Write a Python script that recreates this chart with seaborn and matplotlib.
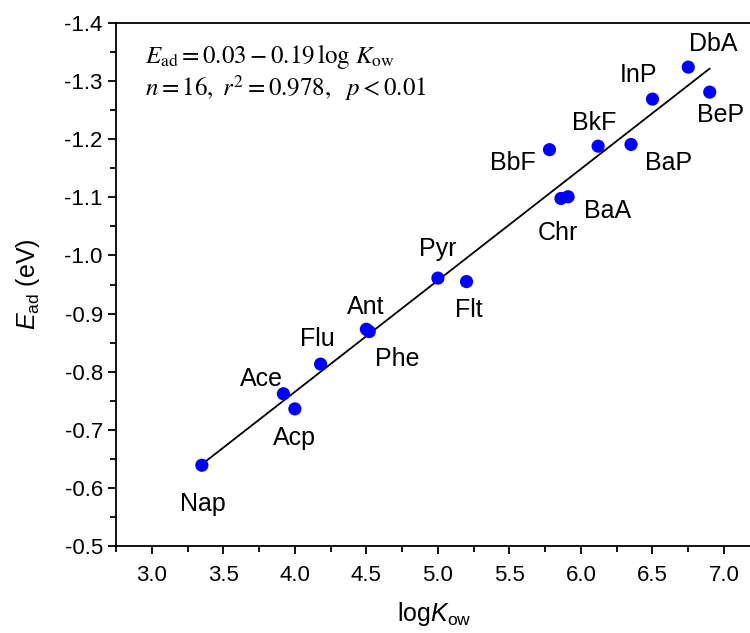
import numpy as np
import pandas as pd
import seaborn as sns
import matplotlib.pyplot as plt
from matplotlib.ticker import MultipleLocator

# data
names = ["Nap", "Ace", "Acp", "Flu", "Ant", "Phe", "Pyr", "Flt",
         "Chr", "BaA", "BbF", "BkF", "BaP", "InP", "DbA", "BeP"]
logkow = [3.35, 3.92, 4.00, 4.18, 4.50, 4.52, 5.00, 5.20,
          5.86, 5.91, 5.78, 6.12, 6.35, 6.50, 6.75, 6.90]
ead = [-0.639, -0.762, -0.736, -0.813, -0.873, -0.869, -0.961, -0.955,
       -1.098, -1.101, -1.182, -1.188, -1.191, -1.269, -1.324, -1.281]
# label offsets in pixels (dx, dy)
offsets = [(1, -39), (-22, 15), (0, -29), (-3, 25), (-1, 22), (28, -27),
           (0, 29), (2, -28), (-3, -35), (39, -14), (-37, -13), (-4, 23),
           (38, -19), (-14, 24), (25, 23), (11, -23)]

df = pd.DataFrame({"name": names, "logKow": logkow, "Ead": ead})

sns.set_style("ticks")
plt.rcParams["font.family"] = ["Liberation Sans", "DejaVu Sans"]
plt.rcParams["mathtext.fontset"] = "custom"
plt.rcParams["mathtext.rm"] = "Liberation Sans"
plt.rcParams["mathtext.it"] = "Liberation Sans:italic"
plt.rcParams["axes.linewidth"] = 1.3
for k in ["text.color", "axes.labelcolor", "xtick.color", "ytick.color",
          "axes.edgecolor"]:
    plt.rcParams[k] = "black"

fig = plt.figure(figsize=(7.5, 6.33), dpi=100)
ax = fig.add_axes([0.1547, 0.1374, 0.8488, 0.8263])

sns.regplot(data=df, x="logKow", y="Ead", ax=ax, scatter=False, ci=None,
            line_kws={"color": "black", "lw": 1.3})
sns.scatterplot(data=df, x="logKow", y="Ead", ax=ax, color="#0000ff",
                s=90, edgecolor="none", zorder=3)

for n, x, y, (dx, dy) in zip(names, logkow, ead, offsets):
    ax.annotate(n, (x, y), xytext=(dx, dy), textcoords="offset pixels",
                ha="center", va="center", fontsize=18)

ax.set_xlim(2.75, 7.2)
ax.set_ylim(-0.5, -1.4)
ax.xaxis.set_major_locator(MultipleLocator(0.5))
ax.xaxis.set_minor_locator(MultipleLocator(0.25))
ax.yaxis.set_major_locator(MultipleLocator(0.1))
ax.yaxis.set_minor_locator(MultipleLocator(0.05))
ax.xaxis.set_major_formatter(lambda v, p: f"{v:.1f}")
ax.yaxis.set_major_formatter(lambda v, p: f"{v:.1f}")
ax.tick_params(which="major", length=6, width=1.3, labelsize=16)
ax.tick_params(which="minor", length=4, width=1.3)
ax.tick_params(axis="x", pad=8)

ax.set_xlabel(r"log$\mathit{K}_{\mathrm{ow}}$", fontsize=18, labelpad=10)
ax.set_ylabel(r"$\mathit{E}_{\mathrm{ad}}$ (eV)", fontsize=18, labelpad=16)

ax.text(0.046, 0.935, r"$E_{\mathrm{ad}}=0.03-0.19\,\log\,K_{\mathrm{ow}}$",
        transform=ax.transAxes, fontsize=18, va="center", math_fontfamily="stix")
ax.text(0.046, 0.876, r"$n=16,\ r^{2}=0.978,\ \ p<0.01$",
        transform=ax.transAxes, fontsize=18, va="center", math_fontfamily="stix")

fig.savefig("out.png", dpi=100)
